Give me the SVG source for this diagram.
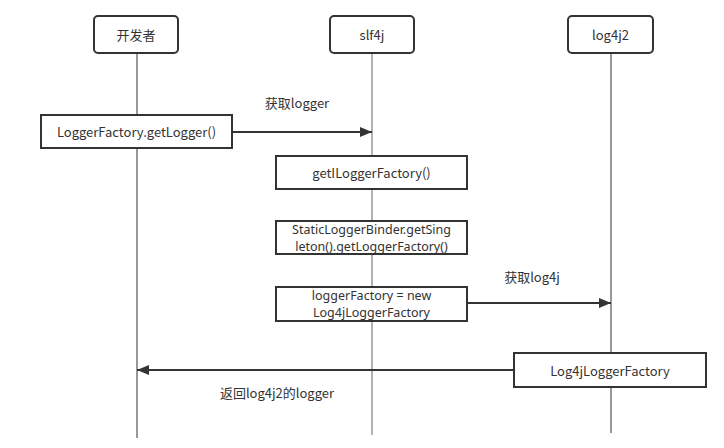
<svg xmlns="http://www.w3.org/2000/svg" width="724" height="448" viewBox="0 0 724 448">
<style>
text{font-family:"Noto Sans CJK SC","Noto Sans",sans-serif;font-size:13px;fill:#333;text-anchor:middle;dominant-baseline:central}
text.two{font-family:"Noto Sans","Noto Sans CJK SC",sans-serif;font-size:12.5px}
.actor{fill:#fff;stroke:#333;stroke-width:2}
.box{fill:#fff;stroke:#333;stroke-width:2}
.life{stroke:#333;stroke-width:1;fill:none}
.lifeg{stroke:#999;stroke-width:1.5;fill:none}
.msg{stroke:#333;stroke-width:2;fill:none}
</style>
<defs>
<marker id="ah" markerWidth="12" markerHeight="10" refX="12" refY="5" orient="auto" markerUnits="userSpaceOnUse">
<path d="M0,0 L12,5 L0,10 Z" fill="#333"/>
</marker>
</defs>
<rect width="724" height="448" fill="#fff"/>
<g id="lifelines">
<line class="life" x1="137" y1="53" x2="137" y2="438"/>
<line class="lifeg" x1="372" y1="53" x2="372" y2="435"/>
<line class="life" x1="611" y1="53" x2="611" y2="433"/>
</g>
<g id="dev"><rect class="actor" x="94" y="16" width="84" height="37" rx="4"/><text x="136" y="34.5">开发者</text></g>
<g id="slf4j"><rect class="actor" x="330" y="16" width="84" height="37" rx="4"/><text x="372" y="34.5">slf4j</text></g>
<g id="log4j2"><rect class="actor" x="568" y="16" width="85" height="37" rx="4"/><text x="610.5" y="34.5">log4j2</text></g>
<g id="getLogger"><rect class="box" x="41" y="115" width="191" height="33"/><text x="136.5" y="131.5">LoggerFactory.getLogger()</text></g>
<g id="getILoggerFactory"><rect class="box" x="276" y="156" width="191" height="33"/><text x="371.5" y="172.5">getILoggerFactory()</text></g>
<g id="staticBinder"><rect class="box" x="276" y="221" width="191" height="33"/><text class="two" x="371.5" y="229">StaticLoggerBinder.getSing</text><text class="two" x="371.5" y="246">leton().getLoggerFactory()</text></g>
<g id="newFactory"><rect class="box" x="276" y="287" width="191" height="34"/><text class="two" x="371.5" y="295.5">loggerFactory = new</text><text class="two" x="371.5" y="312.5">Log4jLoggerFactory</text></g>
<g id="log4jFactory"><rect class="box" x="514" y="353" width="192" height="34"/><text x="610" y="370">Log4jLoggerFactory</text></g>
<g id="connectors">
<line class="msg" x1="232" y1="132" x2="372" y2="132" marker-end="url(#ah)"/>
<text x="297" y="102">获取logger</text>
<line class="msg" x1="467" y1="303" x2="611" y2="303" marker-end="url(#ah)"/>
<text x="532" y="276">获取log4j</text>
<line class="msg" x1="514" y1="370" x2="137" y2="370" marker-end="url(#ah)"/>
<text x="277" y="392">返回log4j2的logger</text>
</g>
</svg>
